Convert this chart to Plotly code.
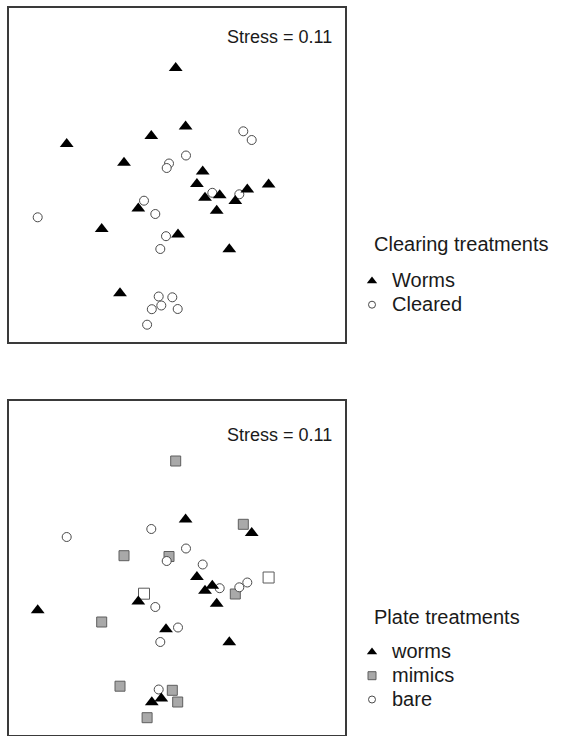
import plotly.graph_objects as go

# NMDS ordination of the 36 plates (same configuration in both panels)
nmds1 = [-0.013, 0.086, -0.257, -1.103, -0.530, 0.090, -0.080, -0.103, 0.663, 0.747,
         0.257, 0.199, -0.330, -0.387, -0.217, -1.393, -0.753, -0.110, 0.010, -0.167,
         -0.570, -0.183, -0.047, -0.157, -0.252, 0.007, -0.299, 0.353, 0.427, 0.280,
         0.623, 0.703, 0.583, 0.916, 0.397, 0.523]
nmds2 = [1.070, 0.485, 0.390, 0.310, 0.123, 0.195, 0.115, 0.070, 0.437, 0.350,
         0.035, -0.090, -0.257, -0.335, -0.390, -0.423, -0.540, -0.612, -0.595, -0.740,
         -1.182, -1.215, -1.223, -1.305, -1.342, -1.340, -1.497, -0.178, -0.202, -0.227,
         -0.193, -0.145, -0.260, -0.095, -0.357, -0.743]

# Clearing treatment of each plate
clearing = ["Worms", "Worms", "Worms", "Worms", "Worms", "Cleared", "Cleared", "Cleared", "Cleared", "Cleared",
            "Worms", "Worms", "Cleared", "Worms", "Cleared", "Cleared", "Worms", "Cleared", "Worms", "Cleared",
            "Worms", "Cleared", "Cleared", "Cleared", "Cleared", "Cleared", "Cleared", "Cleared", "Worms", "Worms",
            "Cleared", "Worms", "Worms", "Worms", "Worms", "Worms"]

# Plate treatment of each plate ("mimics-open": mimic plates printed without shading)
plate = ["mimics", "worms", "bare", "bare", "mimics", "bare", "mimics", "bare", "mimics", "worms",
         "bare", "worms", "mimics-open", "worms", "bare", "worms", "mimics", "worms", "bare", "bare",
         "mimics", "bare", "mimics", "worms", "worms", "mimics", "mimics", "worms", "bare", "worms",
         "bare", "bare", "mimics", "mimics-open", "worms", "worms"]

stress_top = 0.11
stress_bottom = 0.11

FONT = "Arial, Liberation Sans, sans-serif"
INK = "#1a1a1a"
EDGE = "#4a4a4a"

TRI = dict(symbol="triangle-up", color="black", line=dict(width=0))
CIRC = dict(symbol="circle", color="white", line=dict(color=EDGE, width=1))
SQ = dict(symbol="square", color="#a9a9a9", line=dict(color="#5e5e5e", width=1))


def pick(labels, value):
    xs = [x for x, g in zip(nmds1, labels) if g == value]
    ys = [y for y, g in zip(nmds2, labels) if g == value]
    return xs, ys


def key(name, legend, rank, style, size, xa, ya):
    # legend-only entry with a small key symbol
    return go.Scatter(x=[None], y=[None], mode="markers", name=f'<span style="font-size:20px">{name}</span>',
                      legend=legend, legendrank=rank, marker=dict(size=size, **style),
                      xaxis=xa, yaxis=ya, hoverinfo="skip")


fig = go.Figure()

# ---- top panel: clearing treatments ----
cx, cy = pick(clearing, "Cleared")
fig.add_trace(go.Scatter(x=cx, y=cy, mode="markers", name="Cleared", showlegend=False,
                         marker=dict(size=9, **CIRC), xaxis="x", yaxis="y"))
wx, wy = pick(clearing, "Worms")
fig.add_trace(go.Scatter(x=wx, y=wy, mode="markers", name="Worms", showlegend=False,
                         marker=dict(size=12, **TRI), xaxis="x", yaxis="y"))
fig.add_trace(key("Worms", "legend", 1, TRI, 9, "x", "y"))
fig.add_trace(key("Cleared", "legend", 2, CIRC, 7, "x", "y"))

# ---- bottom panel: plate treatments ----
mx, my = pick(plate, "mimics")
fig.add_trace(go.Scatter(x=mx, y=my, mode="markers", name="mimics", showlegend=False,
                         marker=dict(size=10, **SQ), xaxis="x2", yaxis="y2"))
ox, oy = pick(plate, "mimics-open")
fig.add_trace(go.Scatter(x=ox, y=oy, mode="markers", name="mimics", showlegend=False,
                         marker=dict(symbol="square", size=11, color="white",
                                     line=dict(color="#5a5a5a", width=1)),
                         xaxis="x2", yaxis="y2"))
bx, by = pick(plate, "bare")
fig.add_trace(go.Scatter(x=bx, y=by, mode="markers", name="bare", showlegend=False,
                         marker=dict(size=9, **CIRC), xaxis="x2", yaxis="y2"))
px_, py_ = pick(plate, "worms")
fig.add_trace(go.Scatter(x=px_, y=py_, mode="markers", name="worms", showlegend=False,
                         marker=dict(size=12, **TRI), xaxis="x2", yaxis="y2"))
fig.add_trace(key("worms", "legend2", 1, TRI, 9, "x2", "y2"))
fig.add_trace(key("mimics", "legend2", 2, SQ, 8, "x2", "y2"))
fig.add_trace(key("bare", "legend2", 3, CIRC, 7, "x2", "y2"))

W, H = 566, 736
xdom = [9 / W, 345 / W]
top_dom = [1 - 342 / H, 1 - 8 / H]
bot_dom = [1 - 735 / H, 1 - 401 / H]

axis_common = dict(showgrid=False, zeroline=False, showticklabels=False, ticks="",
                   showline=True, mirror=True, linecolor="#3a3a3a", linewidth=1.6)

legend_common = dict(xanchor="left", yanchor="top", bgcolor="rgba(0,0,0,0)",
                     font=dict(size=16, family=FONT, color=INK),
                     itemsizing="trace", tracegroupgap=0)

fig.update_layout(
    width=W, height=H,
    margin=dict(l=0, r=0, t=0, b=0),
    paper_bgcolor="white", plot_bgcolor="white",
    font=dict(family=FONT, color=INK, size=18),
    xaxis=dict(domain=xdom, range=[-1.68, 1.68], anchor="y", **axis_common),
    yaxis=dict(domain=top_dom, range=[-1.67, 1.67], anchor="x", **axis_common),
    xaxis2=dict(domain=xdom, range=[-1.68, 1.68], anchor="y2", **axis_common),
    yaxis2=dict(domain=bot_dom, range=[-1.67, 1.67], anchor="x2", **axis_common),
    legend=dict(x=352 / W, y=1 - 264 / H, **legend_common),
    legend2=dict(x=352 / W, y=1 - 635 / H, **legend_common),
    showlegend=True,
)

annotations = [
    dict(text=f"Stress = {stress_top:.2f}", xref="x domain", yref="y domain",
         x=1, y=1, xanchor="right", yanchor="middle", xshift=-11, yshift=-29,
         showarrow=False, font=dict(size=18)),
    dict(text=f"Stress = {stress_bottom:.2f}", xref="x2 domain", yref="y2 domain",
         x=1, y=1, xanchor="right", yanchor="middle", xshift=-11, yshift=-34,
         showarrow=False, font=dict(size=18)),
    dict(text="Clearing treatments", xref="paper", yref="paper",
         x=372 / W, y=1 - 244 / H, xanchor="left", yanchor="middle",
         showarrow=False, font=dict(size=20)),
    dict(text="Plate treatments", xref="paper", yref="paper",
         x=372 / W, y=1 - 617 / H, xanchor="left", yanchor="middle",
         showarrow=False, font=dict(size=20)),
]
fig.update_layout(annotations=annotations)

fig.write_html("out.html")
